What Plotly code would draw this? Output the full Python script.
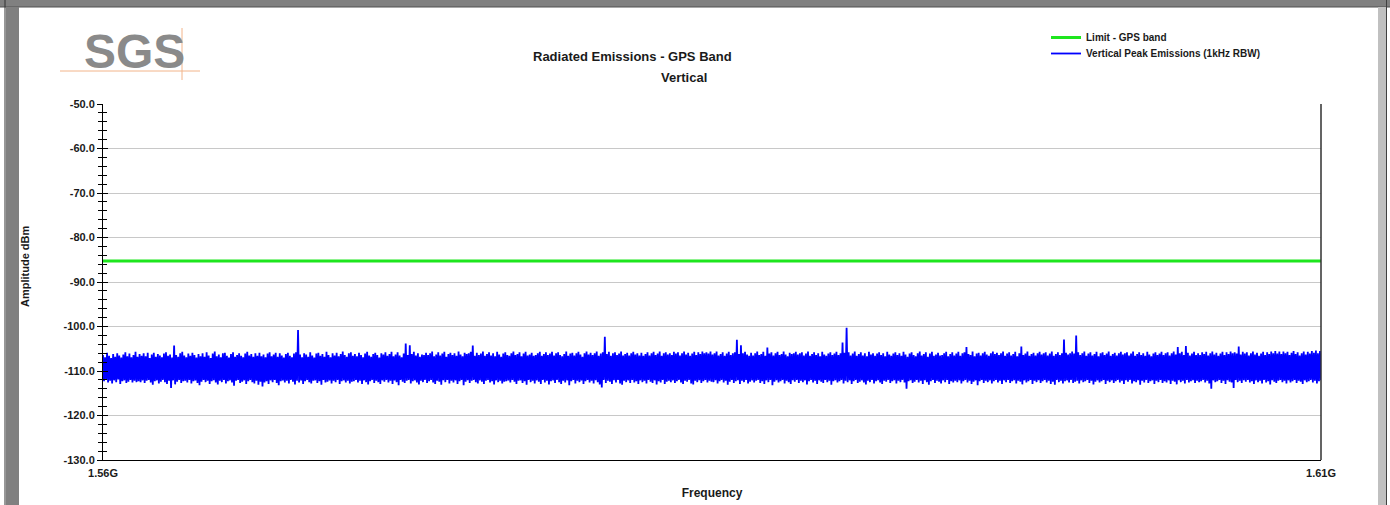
import numpy as np
import plotly.graph_objects as go

# ---------------- data ----------------
f_start_hz = 1.56e9
f_stop_hz = 1.61e9
x_tick_vals = [1.56e9, 1.61e9]
x_tick_text = ["1.56G", "1.61G"]
y_tick_vals = [-50, -60, -70, -80, -90, -100, -110, -120, -130]
y_tick_text = ["-50.0", "-60.0", "-70.0", "-80.0", "-90.0", "-100.0", "-110.0", "-120.0", "-130.0"]

limit_dbm = -85.3

# peak-hold trace: local maxima / minima read along the sweep (dBm)
peak_upper = [
    -106.4, -106.9, -105.9, -106.6, -107.1, -106.2, -106.8, -106.0, -106.5, -107.0, -106.3, -105.8, -106.7, -106.1, -106.9, -106.4, -105.7, -106.8, -106.2, -106.6,
    -106.0, -106.7, -105.9, -107.1, -106.3, -105.9, -106.8, -106.2, -106.5, -106.9, -106.1, -105.8, -106.6, -106.3, -107.0, -104.3, -106.4, -106.8, -106.0, -105.7,
    -106.5, -106.9, -106.1, -106.6, -105.9, -106.4, -107.0, -106.2, -106.7, -106.0, -106.8, -105.8, -106.5, -107.1, -106.1, -105.6, -106.7, -106.3, -106.9, -106.0,
    -105.9, -106.6, -107.0, -106.2, -105.8, -106.8, -106.4, -106.0, -106.6, -106.9, -106.1, -105.7, -106.5, -106.2, -106.8, -106.0, -106.6, -105.9, -106.7, -106.3,
    -106.9, -106.1, -105.8, -106.7, -106.3, -105.9, -106.8, -106.0, -106.5, -107.0, -106.2, -105.9, -106.6, -106.9, -106.1, -105.8, -100.8, -106.3, -106.9, -106.0,
    -106.3, -106.8, -105.8, -106.5, -107.0, -106.1, -105.9, -106.6, -106.2, -106.8, -105.7, -106.4, -106.9, -106.0, -106.5, -105.9, -106.7, -106.2, -105.6, -106.4,
    -106.8, -106.0, -105.8, -106.6, -106.2, -106.7, -105.9, -106.4, -106.9, -106.1, -105.7, -106.5, -106.8, -106.2, -105.9, -106.4, -107.0, -106.0, -106.3, -105.8,
    -106.6, -106.2, -105.7, -106.7, -106.3, -105.8, -106.5, -106.9, -106.1, -103.8, -106.4, -104.2, -106.2, -105.7, -106.5, -106.0, -106.8, -106.3, -106.4, -105.9,
    -106.4, -106.0, -105.6, -106.7, -106.3, -105.8, -106.5, -106.1, -105.7, -106.8, -106.2, -105.9, -106.4, -106.0, -106.6, -105.6, -106.3, -106.7, -105.9, -106.2,
    -106.0, -105.7, -104.3, -106.6, -105.9, -106.4, -106.1, -105.6, -106.6, -106.2, -105.8, -106.5, -106.0, -106.7, -105.7, -106.3, -106.8, -106.1, -105.8, -106.4,
    -106.6, -106.0, -105.6, -106.4, -106.2, -105.8, -106.7, -106.1, -105.7, -106.5, -106.3, -105.9, -106.6, -106.4, -106.0, -105.7, -106.6, -106.2, -105.8, -106.4,
    -106.1, -105.7, -106.5, -106.0, -105.8, -106.4, -106.7, -106.2, -105.6, -106.6, -106.1, -105.9, -106.5, -106.0, -105.7, -106.3, -106.8, -106.0, -105.6, -106.3,
    -105.9, -106.4, -106.0, -105.6, -106.6, -106.1, -105.8, -102.3, -106.2, -105.7, -106.6, -106.0, -105.8, -106.4, -106.1, -105.6, -106.5, -106.2, -105.9, -106.5,
    -106.0, -105.7, -106.3, -106.0, -106.5, -105.9, -106.6, -106.2, -105.8, -106.5, -106.0, -105.7, -106.4, -106.1, -105.6, -106.6, -106.0, -105.8, -106.3, -106.0,
    -106.4, -105.7, -106.1, -105.8, -106.5, -106.0, -105.6, -106.3, -105.9, -106.6, -106.1, -105.7, -106.4, -105.8, -106.2, -105.6, -106.0, -105.8, -106.1, -105.6,
    -106.3, -106.0, -105.6, -106.5, -106.2, -105.8, -106.6, -106.1, -105.7, -106.4, -106.0, -105.8, -103.0, -106.2, -104.2, -106.0, -105.7, -106.3, -106.6, -105.9,
    -106.5, -106.0, -105.6, -106.4, -106.2, -105.7, -106.6, -104.7, -106.1, -105.8, -106.5, -106.0, -105.7, -106.4, -106.2, -105.6, -106.3, -106.7, -105.9, -106.2,
    -106.0, -105.7, -106.3, -106.0, -105.8, -106.5, -106.1, -105.6, -106.6, -106.2, -105.8, -106.4, -106.0, -106.7, -105.7, -106.3, -106.6, -106.1, -105.8, -106.4,
    -106.1, -105.7, -106.4, -106.0, -103.6, -105.9, -100.3, -105.8, -106.5, -106.1, -105.6, -106.6, -106.2, -105.8, -106.5, -106.0, -106.7, -105.7, -106.3, -106.0,
    -106.6, -106.1, -105.8, -106.4, -106.0, -106.7, -105.7, -106.3, -106.6, -106.1, -105.8, -106.4, -106.0, -106.6, -105.7, -106.3, -106.8, -106.1, -105.8, -106.4,
    -106.7, -106.0, -105.6, -106.5, -106.2, -105.8, -106.8, -106.1, -105.7, -106.6, -106.3, -105.9, -106.5, -106.4, -106.0, -105.7, -106.7, -106.2, -105.8, -106.5,
    -106.1, -105.7, -106.6, -106.0, -105.8, -104.6, -106.2, -106.4, -105.6, -106.7, -106.1, -105.9, -106.5, -106.0, -105.7, -106.3, -106.6, -106.0, -105.6, -106.2,
    -105.9, -106.4, -106.0, -105.6, -106.6, -106.1, -105.8, -106.5, -106.2, -105.7, -106.7, -106.0, -104.5, -106.4, -106.1, -105.6, -106.6, -106.2, -105.9, -106.5,
    -106.0, -105.7, -106.3, -106.0, -105.8, -106.5, -106.1, -105.6, -106.6, -106.2, -105.8, -106.4, -106.0, -102.9, -105.9, -106.3, -106.0, -105.6, -106.1, -102.0,
    -105.8, -106.4, -106.0, -105.6, -106.6, -106.1, -105.8, -106.5, -106.2, -105.7, -106.7, -106.0, -105.8, -106.4, -106.1, -105.6, -106.6, -106.2, -105.9, -106.5,
    -106.0, -105.7, -106.3, -106.0, -105.8, -106.5, -106.1, -105.6, -106.6, -106.2, -105.8, -106.4, -106.0, -106.6, -105.7, -106.3, -106.7, -106.1, -105.8, -106.4,
    -106.1, -105.7, -106.4, -106.0, -105.8, -106.5, -106.0, -105.6, -106.3, -104.6, -106.0, -105.7, -106.4, -104.4, -105.9, -106.5, -106.1, -105.7, -106.4, -106.0,
    -106.4, -105.8, -106.2, -105.7, -106.5, -106.0, -105.6, -106.3, -105.9, -106.6, -106.1, -105.7, -106.4, -105.8, -106.2, -105.6, -106.0, -105.8, -106.1, -104.5,
    -106.3, -105.7, -106.1, -105.8, -106.5, -106.0, -105.6, -106.3, -105.9, -106.6, -106.1, -105.7, -106.4, -105.8, -106.2, -105.6, -106.0, -105.5, -106.1, -105.6,
    -106.2, -105.6, -106.0, -105.7, -106.4, -105.9, -105.5, -106.2, -105.8, -106.5, -106.0, -105.6, -106.3, -105.7, -106.1, -105.5, -105.9, -105.4, -106.0, -105.5,
]
peak_lower = [
    -112.3, -112.0, -112.6, -112.2, -112.8, -112.1, -112.5, -111.9, -112.9, -112.3, -112.1, -112.7, -112.4, -112.0, -112.6, -112.2, -112.5, -112.3, -112.5, -112.1,
    -112.7, -112.2, -112.0, -112.6, -113.1, -112.3, -112.1, -112.8, -112.4, -112.0, -112.5, -112.9, -112.2, -113.8, -112.1, -113.0, -112.4, -112.0, -112.7, -112.3,
    -112.2, -112.6, -112.0, -112.8, -112.3, -112.1, -112.7, -113.2, -112.4, -112.0, -112.5, -112.2, -112.9, -112.3, -112.1, -112.6, -113.0, -112.2, -112.5, -112.0,
    -112.8, -112.3, -112.1, -112.6, -113.3, -112.2, -112.0, -112.7, -112.4, -112.1, -112.9, -112.3, -112.0, -112.5, -112.8, -112.2, -113.1, -112.4, -113.5, -112.6,
    -112.3, -112.9, -112.1, -112.5, -112.0, -112.7, -113.2, -112.3, -112.1, -112.6, -112.2, -112.8, -112.0, -112.4, -113.0, -112.2, -112.6, -112.1, -112.9, -112.3,
    -112.0, -112.5, -112.8, -112.2, -112.1, -112.7, -112.3, -113.1, -112.0, -112.6, -112.4, -112.1, -112.8, -112.2, -112.5, -112.0, -112.9, -112.3, -112.1, -112.6,
    -112.2, -112.8, -112.4, -112.3, -112.0, -112.6, -112.2, -112.9, -112.1, -112.5, -113.0, -112.3, -112.0, -112.7, -112.2, -112.5, -112.9, -112.1, -112.4, -112.0,
    -112.6, -112.2, -112.9, -112.1, -112.5, -113.2, -112.0, -112.4, -112.7, -112.2, -112.0, -112.8, -112.3, -112.1, -112.6, -113.0, -112.2, -112.5, -112.0, -112.7,
    -112.3, -112.0, -112.6, -112.9, -112.2, -112.4, -113.1, -112.1, -112.5, -112.0, -112.8, -112.2, -112.6, -112.1, -112.9, -112.3, -112.0, -113.2, -112.4, -112.1,
    -112.7, -112.2, -112.0, -112.5, -112.8, -112.1, -112.4, -112.9, -112.2, -112.0, -112.6, -112.3, -113.0, -112.1, -112.5, -112.2, -112.8, -112.4, -112.3, -112.1,
    -112.6, -112.0, -112.4, -112.9, -112.2, -112.1, -112.7, -112.3, -113.1, -112.0, -112.5, -112.2, -112.8, -112.1, -112.4, -112.9, -112.0, -112.6, -112.2, -113.0,
    -112.3, -112.1, -112.7, -112.0, -112.5, -112.9, -112.2, -112.6, -112.1, -113.2, -112.3, -112.0, -112.8, -112.2, -112.5, -112.1, -112.9, -112.3, -112.0, -112.6,
    -112.2, -112.8, -112.1, -112.5, -113.0, -113.7, -112.0, -112.7, -112.2, -112.4, -112.9, -112.1, -112.6, -112.0, -112.8, -113.1, -112.2, -112.5, -112.1, -112.7,
    -112.0, -112.6, -112.3, -112.9, -112.1, -112.5, -112.2, -112.8, -112.0, -112.4, -112.7, -112.1, -113.0, -112.3, -112.6, -112.0, -112.9, -112.4, -112.2, -112.5,
    -112.1, -112.7, -112.3, -112.0, -112.6, -112.9, -112.2, -112.4, -112.0, -112.8, -113.0, -112.2, -112.5, -112.1, -112.7, -112.3, -112.0, -112.6, -112.2, -112.4,
    -112.5, -112.1, -112.8, -112.3, -112.0, -112.6, -112.2, -113.1, -112.4, -112.0, -112.7, -112.3, -112.1, -112.9, -112.2, -112.5, -112.0, -112.8, -112.4, -112.1,
    -112.6, -112.2, -112.0, -112.7, -112.3, -112.9, -112.1, -112.5, -112.0, -113.2, -112.4, -112.1, -112.6, -112.3, -112.0, -112.8, -112.2, -112.5, -112.9, -112.1,
    -112.4, -112.0, -112.7, -112.2, -112.5, -112.1, -113.0, -112.3, -112.0, -112.6, -112.2, -112.9, -112.1, -112.4, -112.7, -112.0, -112.5, -112.2, -113.1, -112.3,
    -112.1, -112.6, -112.3, -112.0, -112.8, -112.2, -112.5, -112.1, -112.9, -112.3, -112.0, -112.7, -112.4, -112.1, -112.6, -113.0, -112.2, -112.5, -112.0, -112.8,
    -112.3, -112.1, -112.6, -112.9, -112.2, -112.4, -112.0, -112.7, -112.3, -112.1, -112.8, -112.2, -112.5, -112.0, -112.6, -114.0, -112.3, -112.1, -112.7, -112.4,
    -112.0, -112.6, -112.2, -112.9, -112.1, -112.5, -113.1, -112.3, -112.0, -112.7, -112.2, -112.4, -112.8, -112.1, -112.5, -112.0, -112.9, -112.3, -112.6, -112.2,
    -112.5, -112.1, -112.8, -112.3, -112.0, -112.6, -112.2, -112.9, -112.4, -112.1, -113.2, -112.3, -112.0, -112.7, -112.2, -112.5, -112.1, -112.8, -112.3, -112.0,
    -112.6, -112.2, -112.9, -112.1, -112.5, -112.0, -112.7, -112.3, -112.1, -112.8, -112.2, -112.4, -113.0, -112.1, -112.6, -112.3, -112.0, -112.9, -112.2, -112.5,
    -112.1, -112.7, -112.3, -112.0, -112.6, -112.2, -112.9, -112.4, -113.1, -112.0, -112.5, -112.2, -112.8, -112.3, -112.1, -112.6, -112.0, -112.7, -112.4, -112.2,
    -112.8, -112.1, -112.5, -112.3, -112.0, -112.7, -112.2, -113.0, -112.4, -112.1, -112.6, -112.3, -112.0, -112.9, -112.2, -112.5, -112.1, -112.7, -112.3, -112.0,
    -112.6, -112.2, -112.9, -112.1, -112.4, -112.0, -112.8, -112.3, -112.5, -112.1, -113.1, -112.2, -112.6, -112.0, -112.7, -112.3, -112.1, -112.9, -112.2, -112.5,
    -112.0, -112.7, -112.3, -112.6, -112.1, -112.9, -112.2, -112.4, -113.0, -112.1, -112.5, -112.2, -112.8, -112.0, -112.6, -112.3, -112.1, -112.7, -112.2, -112.5,
    -112.3, -112.0, -112.6, -112.2, -112.8, -114.0, -112.1, -112.5, -112.3, -112.0, -112.7, -112.2, -112.9, -112.1, -112.4, -112.6, -113.8, -112.0, -112.5, -112.2,
    -112.7, -112.1, -112.4, -112.0, -112.6, -112.3, -112.9, -112.1, -112.5, -112.2, -112.8, -112.0, -112.6, -112.3, -113.0, -112.1, -112.4, -112.7, -112.2, -112.0,
    -112.5, -112.2, -112.8, -112.1, -112.6, -112.3, -112.0, -112.7, -112.2, -112.4, -112.9, -112.1, -112.5, -112.3, -112.0, -112.6, -112.2, -112.8, -112.3, -112.1,
]

# sweep: maxima and minima alternate along the evenly spaced frequency grid
emission_dbm = [v for pair in zip(peak_upper, peak_lower) for v in pair]
freq_hz = np.linspace(f_start_hz, f_stop_hz, len(emission_dbm))

# ---------------- layout helpers (pixel -> paper) ----------------
W, H = 1390, 505
PL, PR, PT, PB = 103, 1321, 104, 460


def px(x):
    return (x - PL) / (PR - PL)


def py(y):
    return (PB - y) / (PB - PT)


FONT = "Liberation Sans, Arial, sans-serif"
TXT = "#1a1a1a"

fig = go.Figure()

fig.add_trace(go.Scatter(
    x=[f_start_hz, f_stop_hz], y=[limit_dbm, limit_dbm],
    mode="lines", name="Limit - GPS band",
    line=dict(color="#1ee61e", width=3),
    yaxis="y2", hoverinfo="skip", legend="legend",
))
fig.add_trace(go.Scatter(
    x=freq_hz, y=emission_dbm,
    mode="lines", name="Vertical Peak Emissions (1kHz RBW)",
    line=dict(color="#0000ff", width=1.8),
    hoverinfo="skip", legend="legend2",
))

axis_font = dict(family=FONT, size=11, color=TXT, weight="bold")
legend_font = dict(family=FONT, size=10, color=TXT, weight="bold")

fig.update_layout(
    width=W, height=H, autosize=False,
    margin=dict(l=PL, r=W - PR, t=PT, b=H - PB, pad=0, autoexpand=False),
    paper_bgcolor="white", plot_bgcolor="white",
    showlegend=True,
    legend=dict(
        x=px(1046), y=py(23), xanchor="left", yanchor="top",
        bgcolor="rgba(0,0,0,0)", borderwidth=0, font=legend_font, itemwidth=30,
    ),
    legend2=dict(
        x=px(1046), y=py(39), xanchor="left", yanchor="top",
        bgcolor="rgba(0,0,0,0)", borderwidth=0, font=legend_font, itemwidth=30,
    ),
    xaxis=dict(
        range=[f_start_hz, f_stop_hz],
        tickvals=x_tick_vals, ticktext=x_tick_text,
        ticks="", showgrid=False, zeroline=False, automargin=False,
        showline=True, linecolor="#000000", linewidth=1,
        tickfont=axis_font, ticklabelstandoff=3,
        title=dict(text="Frequency", font=dict(family=FONT, size=12, color=TXT, weight="bold"), standoff=10),
    ),
    yaxis=dict(
        range=[-130, -50], tickvals=y_tick_vals, ticktext=y_tick_text,
        ticks="outside", ticklen=5, tickcolor="#000000", tickwidth=1,
        minor=dict(dtick=2, ticks="outside", ticklen=4, tickcolor="#000000", showgrid=False),
        showgrid=True, gridcolor="#c8c8c8", gridwidth=1, zeroline=False, automargin=False,
        showline=True, linecolor="#000000", linewidth=1,
        tickfont=axis_font,
    ),
    yaxis2=dict(
        range=[-130, -50], overlaying="y", side="left", anchor="x",
        tickvals=y_tick_vals, showticklabels=False, automargin=False,
        ticks="inside", ticklen=5, tickcolor="#000000", tickwidth=1,
        minor=dict(dtick=2, ticks="inside", ticklen=4, tickcolor="#000000", showgrid=False),
        showgrid=False, zeroline=False, showline=False,
    ),
)

shapes = [
    # page frame: top bar, left dark bar, right light bar
    dict(type="rect", xref="paper", yref="paper", x0=px(0), x1=px(W), y0=py(0), y1=py(7),
         fillcolor="#808080", line=dict(width=0)),
    dict(type="line", xref="paper", yref="paper", x0=px(0), x1=px(W), y0=py(7), y1=py(7),
         line=dict(color="#505050", width=1)),
    dict(type="rect", xref="paper", yref="paper", x0=px(6), x1=px(19), y0=py(7), y1=py(H),
         fillcolor="#808080", line=dict(width=0)),
    dict(type="line", xref="paper", yref="paper", x0=px(5), x1=px(5), y0=py(0), y1=py(H),
         line=dict(color="#303030", width=1)),
    dict(type="rect", xref="paper", yref="paper", x0=px(1378), x1=px(1386), y0=py(7), y1=py(H),
         fillcolor="#c0c0c0", line=dict(width=0)),
    dict(type="line", xref="paper", yref="paper", x0=px(1386.5), x1=px(1386.5), y0=py(0), y1=py(H),
         line=dict(color="#404040", width=1)),
    # right border of the plot area
    dict(type="line", xref="paper", yref="paper", x0=1, x1=1, y0=0, y1=1,
         line=dict(color="#303030", width=1.5)),
    # logo cross lines
    dict(type="line", xref="paper", yref="paper", x0=px(60), x1=px(200), y0=py(71), y1=py(71),
         line=dict(color="#f2b48a", width=1)),
    dict(type="line", xref="paper", yref="paper", x0=px(182), x1=px(182), y0=py(28), y1=py(80),
         line=dict(color="#f2b48a", width=1)),
]
fig.update_layout(shapes=shapes)

annotations = [
    dict(text="SGS", x=px(134), y=py(51), xref="paper", yref="paper",
         xanchor="center", yanchor="middle", showarrow=False,
         font=dict(family=FONT, size=48, color="#8a8a8a", weight="bold")),
    dict(text="Radiated Emissions - GPS Band", x=px(632), y=py(57), xref="paper", yref="paper",
         xanchor="center", yanchor="middle", showarrow=False,
         font=dict(family=FONT, size=13, color=TXT, weight="bold")),
    dict(text="Vertical", x=px(684), y=py(78), xref="paper", yref="paper",
         xanchor="center", yanchor="middle", showarrow=False,
         font=dict(family=FONT, size=13, color=TXT, weight="bold")),
    dict(text="Amplitude dBm", x=px(25), y=py(267), xref="paper", yref="paper",
         xanchor="center", yanchor="middle", showarrow=False, textangle=-90,
         font=dict(family=FONT, size=11, color=TXT, weight="bold")),
]
fig.update_layout(annotations=annotations)

fig.write_html(
    "out.html",
    config={"displayModeBar": False, "staticPlot": True},
    post_script="document.body.style.margin='0';",
)
